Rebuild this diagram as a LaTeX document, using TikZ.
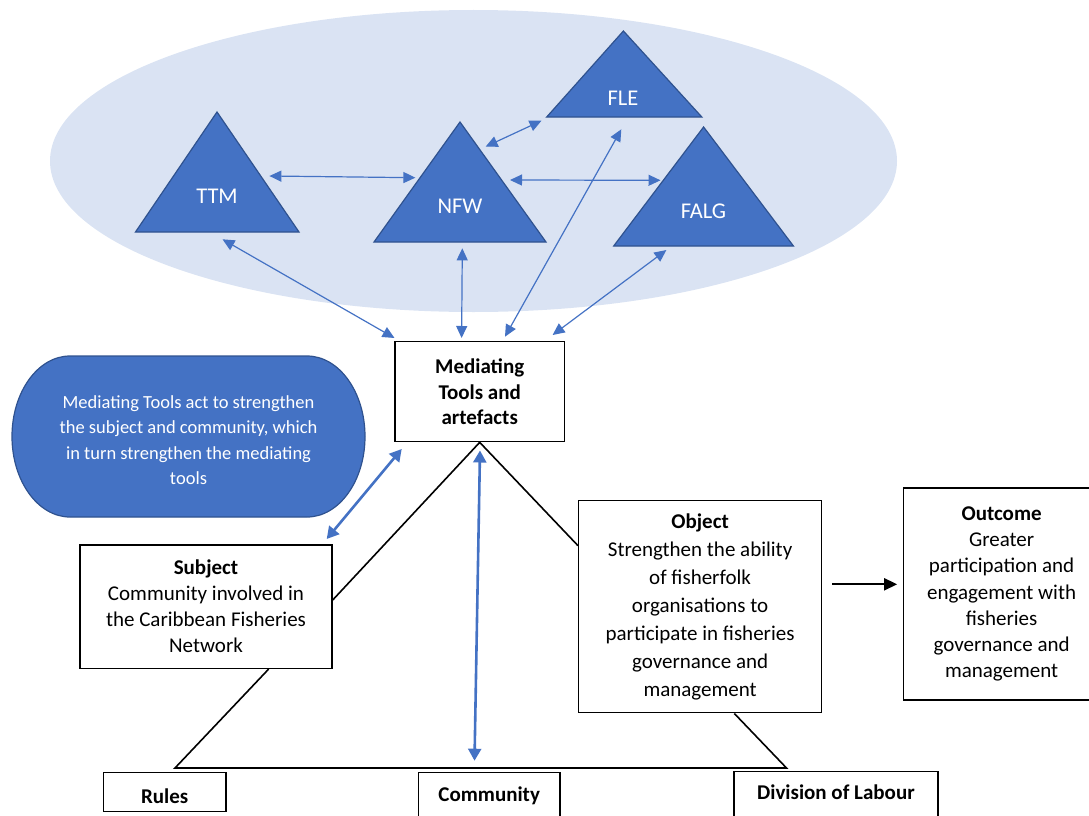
\documentclass[tikz,border=0pt]{standalone}
\usepackage{fontspec}
\setmainfont{Carlito}
\usetikzlibrary{arrows.meta,calc}
\definecolor{accent}{HTML}{4472C4}
\definecolor{accentdark}{HTML}{2F528F}
\definecolor{haze}{HTML}{DAE3F3}

\begin{document}
\begin{tikzpicture}[x=1pt,y=-1pt,
  tri/.style={fill=accent,draw=accentdark,line width=1.2pt,line join=miter},
  trilabel/.style={text=white,font=\fontsize{22.5}{27}\selectfont,inner sep=0pt},
  link/.style={draw=accent,line width=1.2pt,
    {Triangle[length=12pt,width=11pt]}-{Triangle[length=12pt,width=11pt]}},
  boldlink/.style={draw=accent,line width=2.6pt,
    {Triangle[length=12pt,width=13pt]}-{Triangle[length=12pt,width=13pt]}},
  flow/.style={draw=black,line width=2pt,-{Triangle[length=13pt,width=12pt]}},
  edge/.style={draw=black,line width=1.6pt,line join=miter},
  box/.style={draw=black,line width=1.5pt,fill=white,align=center,inner sep=0pt},
  oneline/.style={text height=14pt,text depth=4pt},
]
\useasboundingbox (0,0) rectangle (1089,816);

% background cloud of tools
\fill[haze] (473.5,161) ellipse [x radius=423.5pt, y radius=151pt];

% triangles of the tool set
\path[tri] (217,112) -- (299,232) -- (135.5,232) -- cycle;
\path[tri] (460,122) -- (546,242) -- (374,242) -- cycle;
\path[tri] (623.4,31) -- (701.8,117) -- (546.7,117) -- cycle;
\path[tri] (703.6,127) -- (793.4,246) -- (613.7,246) -- cycle;
\node[trilabel] (ttm)  at (217,196)   {TTM};
\node[trilabel] (nfw)  at (460,206)   {NFW};
\node[trilabel] (fle)  at (623,98)    {FLE};
\node[trilabel] (falg) at (703.5,211) {FALG};

% connector ends around the triangles
\coordinate (ttmR)  at (269.4,176);
\coordinate (nfwL)  at (415.4,177.7);
\coordinate (nfwT)  at (485.6,146.7);
\coordinate (fleL)  at (541.5,120.7);
\coordinate (nfwR)  at (510,180);
\coordinate (falgL) at (660.5,180.3);
\coordinate (ttmB)  at (222.5,239.3);
\coordinate (nfwB)  at (462.3,248.3);
\coordinate (fleB)  at (621.3,129.3);
\coordinate (falgB) at (666.4,250);
\coordinate (medA)  at (394.5,338);
\coordinate (medB)  at (461.6,338);
\coordinate (medC)  at (505,336.7);
\coordinate (medD)  at (552.6,335);

\draw[link] (ttmR) -- (nfwL);
\draw[link] (nfwT) -- (fleL);
\draw[link] (nfwR) -- (falgL);
\draw[link] (ttmB) -- (medA);
\draw[link] (nfwB) -- (medB);
\draw[link] (fleB) -- (medC);
\draw[link] (falgB) -- (medD);

% explanatory note
\path[fill=accent,draw=accentdark,line width=1.2pt]
  (70,356) -- (307,356) arc[start angle=90,end angle=-90,x radius=58pt,y radius=80.5pt]
  -- (70,517) arc[start angle=270,end angle=90,x radius=58pt,y radius=80.5pt] -- cycle;
\node[text=white,align=center,font=\fontsize{18.5}{25.3}\selectfont] (note) at (188.5,440)
  {Mediating Tools act to strengthen\\the subject and community, which\\in turn strengthen the mediating\\tools};

% activity system boxes
\node[box,line width=1.3pt,minimum width=169.3pt,minimum height=100pt,
  font=\fontsize{21}{25.5}\selectfont\bfseries] (med) at (479.7,391.7)
  {Mediating\\Tools and\\artefacts};
\node[box,minimum width=252pt,minimum height=123.3pt,font=\fontsize{21}{26}\selectfont]
  (subj) at (206,606.7)
  {\textbf{Subject}\\Community involved in\\the Caribbean Fisheries\\Network};
\node[box,minimum width=242.8pt,minimum height=212pt,font=\fontsize{21}{28}\selectfont]
  (obj) at (700.1,606.7)
  {\textbf{Object}\\Strengthen the ability\\of fisherfolk\\organisations to\\participate in fisheries\\governance and\\management};
\node[box,minimum width=196.6pt,minimum height=211.7pt,font=\fontsize{21}{26.3}\selectfont]
  (out) at (1001.6,594)
  {\textbf{Outcome}\\Greater\\participation and\\engagement with\\fisheries\\governance and\\management};

% triangle of relations
\draw[edge] ($(subj.north east)!0.446!(subj.south east)$) -- (med.south)
  -- ($(obj.north west)!0.214!(obj.south west)$);
\draw[edge] ($(subj.south west)!0.747!(subj.south east)$) -- (175,768) -- (786.5,768)
  -- ($(obj.south west)!0.64!(obj.south east)$);

% bottom boxes
\node[box,minimum width=122.7pt,minimum height=39pt,text height=26.6pt,text depth=4pt,
  font=\fontsize{21}{26}\selectfont\bfseries] (rules) at (164.7,792.2) {Rules};
\node[box,oneline,minimum width=141.7pt,minimum height=46.6pt,
  font=\fontsize{21}{26}\selectfont\bfseries] (comm) at (489.2,796) {Community};
\node[box,oneline,minimum width=203.7pt,minimum height=46pt,
  font=\fontsize{21}{26}\selectfont\bfseries] (div) at (835.9,794.3) {Division of Labour};

% strengthening links
\coordinate (noteA) at (401.7,449);
\coordinate (noteB) at (326.7,539);
\coordinate (commT) at (480,450.5);
\coordinate (commB) at (474.5,760.7);
\draw[boldlink] (noteA) -- (noteB);
\draw[boldlink] (commT) -- (commB);

% object leads to outcome
\draw[flow] ($(obj.east)+(10,-22.4)$) -- ($(out.west)+(-5.4,-9.7)$);
\end{tikzpicture}
\end{document}
